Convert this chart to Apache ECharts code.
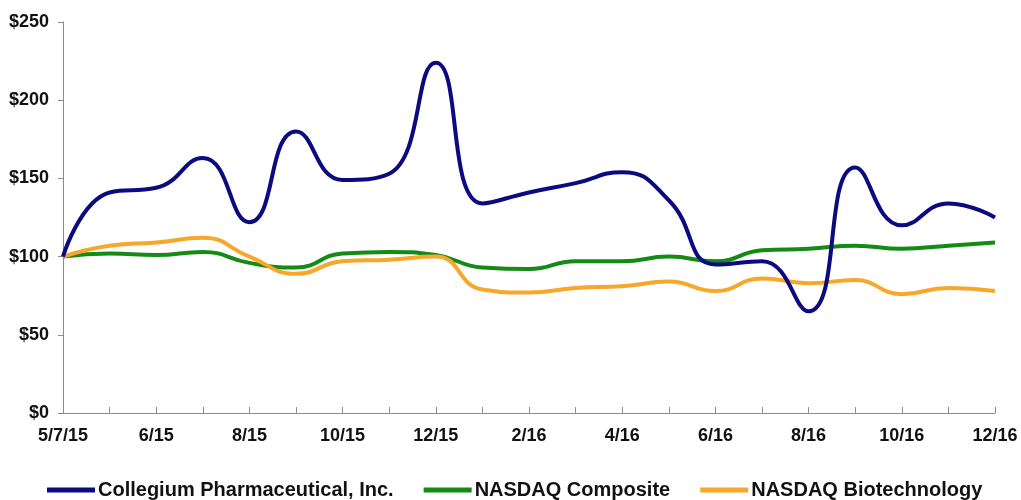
<!DOCTYPE html>
<html>
<head>
<meta charset="utf-8">
<script src="https://cdn.jsdelivr.net/npm/echarts@6/dist/echarts.min.js"></script>
<style>
  html, body { margin: 0; padding: 0; background: #fff; }
  #chart { width: 1021px; height: 500px; }
</style>
</head>
<body>
<div id="chart"></div>
<script>
const dates = ['5/7/15', '5/15', '6/15', '7/15', '8/15', '9/15', '10/15', '11/15', '12/15', '1/16', '2/16',
  '3/16', '4/16', '5/16', '6/16', '7/16', '8/16', '9/16', '10/16', '11/16', '12/16'];

const collegium = [100, 141, 144, 163, 122, 180, 149, 153, 224, 134, 141, 147, 154, 136, 95, 97, 65, 157, 120, 134, 125];
const nasdaqComposite = [100, 102, 101, 103, 96, 93, 102, 103, 101, 93, 92, 97, 97, 100, 97, 104, 105, 107, 105, 107, 109];
const nasdaqBiotech = [100, 107, 109, 112, 100, 89, 97, 98, 100, 79, 77, 80, 81, 84, 78, 86, 83, 85, 76, 80, 78];

const colors = {
  collegium: '#0b0b80',
  composite: '#158a15',
  biotech: '#f7a72a'
};

const font = '"Liberation Sans", Arial, sans-serif';

const chart = echarts.init(document.getElementById('chart'));

function lineSeries(name, data, color) {
  return {
    name,
    type: 'line',
    data,
    smooth: 0.5,
    symbol: 'none',
    lineStyle: { color, width: 4 },
    itemStyle: { color }
  };
}

chart.setOption({
  animation: false,
  grid: { left: 63, right: 26, top: 22, bottom: 87 },
  legend: {
    left: 47,
    top: 480,
    padding: 0,
    itemWidth: 48,
    itemHeight: 5,
    itemGap: 30,
    icon: 'rect',
    textStyle: { fontFamily: font, fontSize: 20, fontWeight: 'bold', color: '#111', padding: [0, 0, 0, -2] },
    data: ['Collegium Pharmaceutical, Inc.', 'NASDAQ Composite', 'NASDAQ Biotechnology']
  },
  xAxis: {
    type: 'category',
    boundaryGap: false,
    data: dates,
    axisLine: { lineStyle: { color: '#8c8c8c', width: 1 } },
    axisTick: { inside: true, length: 6, interval: 0, lineStyle: { color: '#8c8c8c' } },
    axisLabel: {
      interval: 1,
      margin: 14,
      fontFamily: font,
      fontSize: 18,
      fontWeight: 'bold',
      color: '#111'
    },
    splitLine: { show: false }
  },
  yAxis: {
    type: 'value',
    min: 0,
    max: 250,
    interval: 50,
    axisLine: { show: true, lineStyle: { color: '#8c8c8c', width: 1 } },
    axisTick: { show: true, length: 5, lineStyle: { color: '#8c8c8c' } },
    axisLabel: {
      margin: 14,
      formatter: '${value}',
      fontFamily: font,
      fontSize: 18,
      fontWeight: 'bold',
      color: '#111'
    },
    splitLine: { show: false }
  },
  series: [
    lineSeries('NASDAQ Composite', nasdaqComposite, colors.composite),
    lineSeries('NASDAQ Biotechnology', nasdaqBiotech, colors.biotech),
    lineSeries('Collegium Pharmaceutical, Inc.', collegium, colors.collegium)
  ]
});
</script>
</body>
</html>
